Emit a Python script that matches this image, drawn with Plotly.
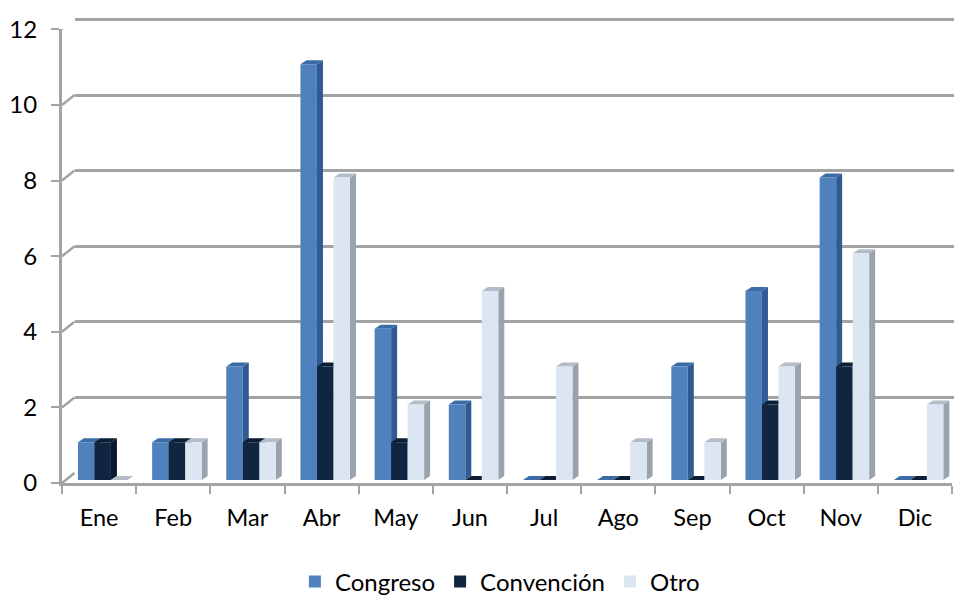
import plotly.graph_objects as go

months = ["Ene", "Feb", "Mar", "Abr", "May", "Jun", "Jul", "Ago", "Sep", "Oct", "Nov", "Dic"]
congreso = [1, 1, 3, 11, 4, 2, 0, 0, 3, 5, 8, 0]
convencion = [1, 1, 1, 3, 1, 0, 0, 0, 0, 2, 3, 0]
otro = [0, 1, 1, 8, 2, 5, 3, 1, 1, 3, 6, 2]
y_ticks = [0, 2, 4, 6, 8, 10, 12]

W, H = 954, 595
FONT = "Lato, 'Open Sans', sans-serif"
GRID = "#A3A3A3"
CAT_PX = 74.17
UNIT_PX = 37.8


def xdom(a, b):
    return [a / W, min(b, W) / W]


def ydom(bottom, top):
    return [(H - bottom) / H, (H - top) / H]


series = [
    ("Congreso", congreso, "#4F81BD", "#2F5A92", "#3B6CA6"),
    ("Convención", convencion, "#10253F", "#0A1A30", "#0C1E36"),
    ("Otro", otro, "#DCE6F2", "#98A3AE", "#B4BCC7"),
]

BAR_W = 16.5 / CAT_PX
DX = 6.0 / CAT_PX
DY = 4.0 / UNIT_PX

fig = go.Figure()

layout = dict(
    width=W, height=H, margin=dict(l=0, r=0, t=0, b=0, autoexpand=False),
    paper_bgcolor="white", plot_bgcolor="rgba(0,0,0,0)",
    font=dict(family=FONT, color="black", size=23),
    showlegend=True, barmode="overlay", hovermode=False,
    legend=dict(orientation="h", x=0.524, xanchor="center", y=-0.016, yanchor="bottom",
                font=dict(family=FONT, size=24), bgcolor="rgba(0,0,0,0)",
                traceorder="normal", itemclick=False, itemdoubleclick=False),
)

# back wall: gridlines only
BX0, BY0 = 74.5, 473
layout["xaxis"] = dict(domain=xdom(BX0, W), range=[-0.5, (W - BX0) / CAT_PX - 0.5], visible=False, anchor="y")
layout["yaxis"] = dict(domain=ydom(BY0, BY0 - 12.1 * UNIT_PX), range=[0, 12.1], anchor="x", tickvals=y_ticks,
                       showticklabels=False, ticks="", showgrid=True, gridcolor=GRID, gridwidth=2.5,
                       zeroline=False, showline=False)
fig.add_trace(go.Scatter(x=[0], y=[0], mode="none", xaxis="x", yaxis="y", showlegend=False, hoverinfo="skip"))

# front axes: ticks and labels
FX0, FY0 = 62, 483
layout["xaxis2"] = dict(domain=xdom(FX0, FX0 + 12 * CAT_PX), type="category", categoryorder="array", categoryarray=months,
                        range=[-0.5, 11.5], anchor="y2", tickson="boundaries", ticks="outside", ticklen=8,
                        tickwidth=2, tickcolor=GRID, showline=True, linecolor=GRID, linewidth=3, showgrid=False,
                        tickfont=dict(family=FONT, size=23.5, color="black"), ticklabelstandoff=12)
layout["yaxis2"] = dict(domain=ydom(FY0, FY0 - 12 * UNIT_PX), range=[0, 12], anchor="x2", tickvals=y_ticks,
                        ticks="outside", ticklen=8, tickwidth=2, tickcolor=GRID, showline=True, linecolor=GRID,
                        linewidth=3, showgrid=False, zeroline=False,
                        tickfont=dict(family=FONT, size=24, color="black"), ticklabelstandoff=9)
fig.add_trace(go.Scatter(x=months, y=[0] * len(months), mode="lines", line=dict(width=0),
                         xaxis="x2", yaxis="y2", showlegend=False, hoverinfo="skip"))

# side-wall connectors from the front axis to the back wall
shapes = []
for t in y_ticks:
    shapes.append(dict(type="line", xref="paper", yref="y2",
                       x0=FX0 / W, x1=BX0 / W, y0=t, y1=t + (FY0 - BY0) / UNIT_PX,
                       line=dict(color=GRID, width=2.5), layer="below"))
layout["shapes"] = shapes

# bars: one pair of layers per series, painted left to right
PX0, PY0 = 65.6, 480
x_max = (W - PX0) / CAT_PX - 0.5
y_max = (PY0 - 10) / UNIT_PX
ax = 3
for k, (name, vals, front, side, top) in enumerate(series):
    offset = (k - 1.5) * BAR_W
    side_x, side_y, top_x, top_y = [], [], [], []
    for i, v in enumerate(vals):
        x1 = i + offset
        x2 = x1 + BAR_W
        side_x += [x2, x2 + DX, x2 + DX, x2, x2, None]
        side_y += [0, DY, v + DY, v, 0, None]
        top_x += [x1, x2, x2 + DX, x1 + DX, x1, None]
        top_y += [v, v, v + DY, v + DY, v, None]
    for layer in (ax, ax + 1):
        layout[f"xaxis{layer}"] = dict(domain=xdom(PX0, W), range=[-0.5, x_max], visible=False, anchor=f"y{layer}")
        layout[f"yaxis{layer}"] = dict(domain=ydom(PY0, 10), range=[0, y_max], visible=False, anchor=f"x{layer}")
    fig.add_trace(go.Scatter(x=side_x, y=side_y, mode="lines", fill="toself", fillcolor=side, line=dict(width=0),
                             xaxis=f"x{ax}", yaxis=f"y{ax}", showlegend=False, hoverinfo="skip"))
    fig.add_trace(go.Scatter(x=top_x, y=top_y, mode="lines", fill="toself", fillcolor=top, line=dict(width=0),
                             xaxis=f"x{ax}", yaxis=f"y{ax}", showlegend=False, hoverinfo="skip"))
    fig.add_trace(go.Bar(x=list(range(len(vals))), y=vals, name=name, width=BAR_W, offset=offset,
                         marker=dict(color=front, line=dict(width=0)), xaxis=f"x{ax + 1}", yaxis=f"y{ax + 1}",
                         cliponaxis=False))
    ax += 2

fig.update_layout(**layout)
fig.write_html("out.html", post_script="document.body.style.margin='0';document.body.style.overflow='hidden';",
               config={"displayModeBar": False})
